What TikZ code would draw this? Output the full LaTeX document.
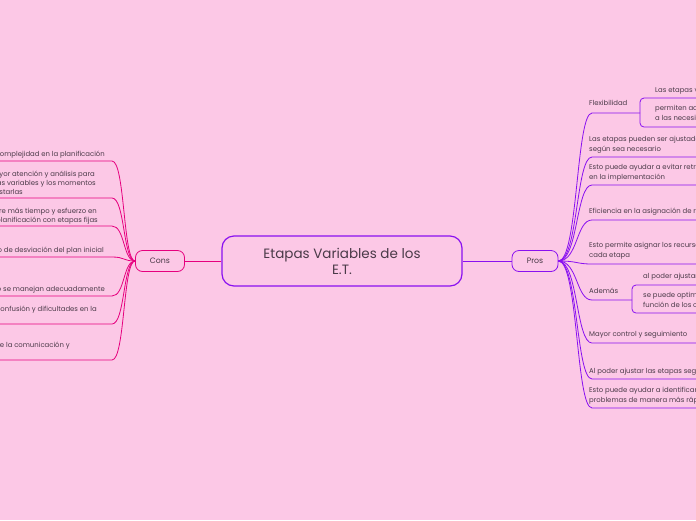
\documentclass[tikz,border=0pt]{standalone}
\usepackage{fontspec}
\setmainfont{Poppins}
\definecolor{bg}{HTML}{FCC8E6}
\definecolor{pur}{HTML}{8A10F0}
\definecolor{pnk}{HTML}{E6007E}
\definecolor{tx}{HTML}{4A3A48}
\begin{document}
\begin{tikzpicture}[x=1pt,y=-1pt,
  every node/.style={text=tx,font=\fontsize{6.9}{9.8}\selectfont,inner sep=0pt},
  lt/.style={anchor=north west,align=left},
  rt/.style={anchor=base east},
  pl/.style={draw=pur,line width=0.8pt},
  cl/.style={draw=pnk,line width=0.8pt}]
\useasboundingbox (0,0) rectangle (696,520);
\clip (0,0) rectangle (696,520);
\fill[bg] (0,0) rectangle (696,520);
% central
\node[draw=pur,line width=1.2pt,rounded corners=12pt,minimum width=240pt,minimum height=50pt,align=center,font=\fontsize{13.5}{16}\selectfont] (c) at (342,261) {Etapas Variables de los\\E.T.};
\node[draw=pur,line width=0.8pt,rounded corners=7pt,minimum width=46pt,minimum height=21pt,font=\fontsize{7.8}{9}\selectfont] (pros) at (535,261) {Pros};
\node[draw=pnk,line width=0.8pt,rounded corners=7pt,minimum width=49pt,minimum height=21pt,font=\fontsize{7.8}{9}\selectfont] (cons) at (160,261) {Cons};
\draw[pl] (c.east) -- (pros.west);
\draw[cl] (c.west) -- (cons.east);
% pros branches
\foreach \y/\n/\e in {113/p1/640,157/p2/710,185/p3/710,220/p4/710,264/p5/710,300/p6/632,343/p7/710,379/p8/710,408/p9/710}{
  \coordinate (\n) at (592,\y);
  \draw[pl] (pros.east) .. controls (578,261) and (576,\y) .. (\n) -- (\e,\y);
}
\node[lt] (t1) at (589,100) {Flexibilidad};
\node[lt] (t2) at (589,136) {Las etapas pueden ser ajustadas\\según sea necesario};
\node[lt] (t3) at (589,164) {Esto puede ayudar a evitar retrasos\\en la implementación};
\node[lt] (t4) at (589,208) {Eficiencia en la asignación de recursos};
\node[lt] (t5) at (589,242) {Esto permite asignar los recursos necesarios a\\cada etapa};
\node[lt] (t6) at (589,288) {Además};
\node[lt] (t7) at (589,331) {Mayor control y seguimiento};
\node[lt] (t8) at (589,368) {Al poder ajustar las etapas según sea necesario};
\node[lt] (t9) at (589,387) {Esto puede ayudar a identificar y solucionar\\problemas de manera más rápida};
% sub boxes
\draw[pl,rounded corners=4pt] (720,98) -- (640,98) -- (640,127) -- (720,127);
\node[lt] (u1) at (655,87) {Las etapas variables};
\node[lt] (u2) at (655,105) {permiten adaptarse\\a las necesidades};
\draw[pl,rounded corners=4pt] (720,285) -- (632,285) -- (632,313) -- (720,313);
\node[lt] (u3) at (643,273) {al poder ajustar las etapas};
\node[lt] (u4) at (643,292) {se puede optimizar en\\función de los cambios};
% cons branches
\foreach \y/\n in {161/k1,198/k2,226/k3,257/k4,296/k5,324/k6,360/k7}{
  \coordinate (\n) at (112,\y);
  \draw[cl] (cons.west) .. controls (123,261) and (125,\y) .. (\n) -- (-10,\y);
}
\node[rt] (a1) at (105,156) {Mayor complejidad en la planificación};
\node[rt] (a2) at (95,176) {Requiere mayor atención y análisis para};
\node[rt] (a3) at (96,185) {identificar las variables y los momentos};
\node[rt] (a4) at (23,194) {ajustarlas};
\node[rt] (a5) at (97,213) {Requiere más tiempo y esfuerzo en};
\node[rt] (a6) at (98,222) {comparación con la planificación con etapas fijas};
\node[rt] (a7) at (104,252) {Mayor riesgo de desviación del plan inicial};
\node[rt] (a8) at (105,291) {si no se manejan adecuadamente};
\node[rt] (a9) at (97,311) {Puede generar confusión y dificultades en la};
\node[rt] (a10) at (70,347) {Dificultad de la comunicación y};
\end{tikzpicture}
\end{document}
